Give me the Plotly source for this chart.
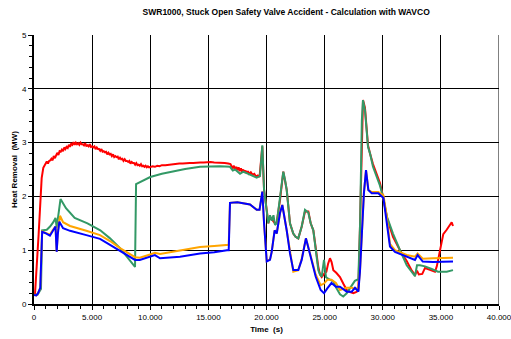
import plotly.graph_objects as go

# Heat removal (MW) versus time (s) for the four calculated cases
red_t = [0, 90, 400, 660, 800, 900, 1000, 1100, 1200, 1300, 1400, 1500, 1600, 1700, 1800, 1900,
         2000, 2100, 2200, 2300, 2400, 2500, 2600, 2700, 2800, 2900, 3000, 3100, 3200, 3300,
         3400, 3500, 3600, 3700, 3800, 3900, 4000, 4100, 4200, 4300, 4400, 4500, 4600, 4700,
         4800, 4900, 5000, 5100, 5200, 5300, 5400, 5500, 5600, 5700, 5800, 5900, 6000, 6100,
         6200, 6300, 6400, 6500, 6600, 6700, 6800, 6900, 7000, 7100, 7200, 7300, 7400, 7500,
         7600, 7700, 7800, 7900, 8000, 8100, 8200, 8300, 8400, 8500, 8600, 8700, 8800, 8900,
         9000, 9100, 9200, 9300, 9400, 9500, 9600, 9700, 9800, 9900, 10000, 10200, 10400,
         10600, 10800, 11000, 11300, 11600, 11900, 12200, 12500, 12800, 13100, 13400, 13700,
         14000, 14300, 14600, 14900, 15200, 15500, 15800, 16100, 16400, 16700, 16900, 17000,
         17100, 17200, 17300, 17400, 17500, 17600, 17700, 17800, 17900, 18000, 18100, 18200,
         18300, 18400, 18500, 18650, 18800, 18950, 19100, 19250, 19400, 19640, 19790, 20020,
         20160, 20300, 20450, 20600, 20730, 20880, 21160, 21445, 21600, 21740, 22020, 22300,
         22500, 22735, 23030, 23310, 23600, 23800, 24030, 24250, 24450, 24600, 24750, 24950,
         25150, 25300, 25460, 25600, 25750, 26000, 26320, 26600, 26900, 27200, 27470, 27700,
         27900, 28050, 28200, 28300, 28470, 28730, 28900, 29160, 29760, 30020, 30365, 30880,
         31480, 32060, 32500, 32774, 32946, 33100, 33400, 33634, 34000, 34494, 34650, 34752,
         35071, 35208, 35500, 35784, 35930, 36042]
red_v = [0.18, 0.2, 1.3, 2.34, 2.53, 2.58, 2.62, 2.65, 2.61, 2.66, 2.67, 2.7, 2.67, 2.75, 2.71,
         2.76, 2.81, 2.77, 2.84, 2.83, 2.87, 2.84, 2.91, 2.88, 2.92, 2.9, 2.96, 2.92, 2.98, 2.96,
         3.01, 2.96, 3.0, 2.97, 2.99, 2.96, 3.0, 2.97, 2.97, 2.95, 2.99, 2.94, 2.95, 2.93,
         2.97, 2.92, 2.93, 2.91, 2.93, 2.88, 2.91, 2.88, 2.88, 2.85, 2.88, 2.83, 2.84, 2.82,
         2.83, 2.78, 2.81, 2.78, 2.79, 2.75, 2.78, 2.73, 2.75, 2.73, 2.74, 2.69, 2.72, 2.69,
         2.7, 2.66, 2.69, 2.66, 2.66, 2.64, 2.66, 2.61, 2.64, 2.62, 2.62, 2.59, 2.62, 2.58,
         2.59, 2.57, 2.6, 2.56, 2.57, 2.55, 2.57, 2.54, 2.56, 2.54, 2.55, 2.56, 2.55,
         2.57, 2.56, 2.58, 2.58, 2.59, 2.6, 2.6, 2.61, 2.61, 2.62, 2.62, 2.62,
         2.63, 2.63, 2.63, 2.64, 2.64, 2.63, 2.63, 2.62, 2.62, 2.61, 2.6, 2.56,
         2.52, 2.57, 2.5, 2.55, 2.49, 2.54, 2.47, 2.52, 2.46, 2.5, 2.44, 2.48,
         2.43, 2.47, 2.42, 2.45, 2.4, 2.42, 2.37, 2.39, 2.36, 2.93, 2.12, 1.75,
         1.5, 1.62, 1.58, 1.52, 1.5, 1.52, 1.93, 2.46, 2.3, 2.12, 1.5, 1.31,
         1.25, 1.22, 1.44, 1.72, 1.72, 1.5, 1.37, 1.0, 0.7, 0.55, 0.5, 0.56,
         0.6, 0.75, 0.85, 0.78, 0.63, 0.58, 0.5, 0.38, 0.26, 0.22, 0.2, 0.22,
         0.25, 1.5, 3.3, 3.79, 3.65, 2.95, 2.8, 2.6, 2.25, 2.0, 1.6, 1.25,
         1.0, 0.8, 0.62, 0.54, 0.62, 0.55, 0.56, 0.67, 0.64, 0.6, 0.7, 0.82,
         1.13, 1.3, 1.38, 1.47, 1.52, 1.45]

green_t = [0, 300, 430, 600, 700, 1100, 1380, 1660, 1850, 1950, 2280, 2400, 2750, 3500, 4600,
           5700, 6540, 7400, 8260, 8690, 8780, 10000, 11000, 12000, 13000, 14280, 15000, 16000,
           16860, 17100, 17300, 17720, 18000, 18580, 19157, 19440, 19640, 19790, 20020, 20155,
           20300, 20448, 20600, 20731, 20878, 21161, 21445, 21600, 21738, 22021, 22305, 22500,
           22735, 23028, 23311, 23595, 23802, 24026, 24250, 24456, 24600, 24748, 24946, 25118,
           25300, 25746, 26000, 26321, 26600, 26899, 27200, 27600, 27900, 28050, 28200, 28300,
           28472, 28731, 28903, 29161, 29763, 30020, 30365, 30881, 31483, 32060, 32774, 32946,
           33204, 33634, 34210, 34752, 35500, 36042]
green_v = [0.17, 0.17, 0.22, 0.28, 1.37, 1.38, 1.44, 1.52, 1.6, 1.42, 1.95, 1.9, 1.78, 1.6, 1.5,
           1.37, 1.22, 1.04, 0.82, 0.69, 2.23, 2.36, 2.42, 2.47, 2.51, 2.55, 2.56, 2.56,
           2.55, 2.48, 2.5, 2.42, 2.46, 2.4, 2.35, 2.38, 2.95, 2.12, 1.75, 1.5,
           1.65, 1.55, 1.65, 1.47, 1.5, 1.93, 2.46, 2.3, 2.12, 1.5, 1.31, 1.25,
           1.22, 1.44, 1.75, 1.7, 1.5, 1.37, 0.95, 0.63, 0.55, 0.51, 0.82, 0.5,
           0.47, 0.42, 0.3, 0.18, 0.14, 0.2, 0.3, 0.43, 0.46, 1.5, 3.4, 3.79,
           3.6, 2.92, 2.8, 2.55, 2.2, 2.0, 1.62, 1.31, 1.0, 0.72, 0.52, 0.72,
           0.72, 0.7, 0.65, 0.6, 0.6, 0.63]

orange_t = [0, 200, 350, 500, 540, 700, 950, 1370, 1660, 1850, 1900, 1950, 2050, 2237, 2500,
            3100, 4500, 5680, 6540, 7400, 8690, 9100, 9980, 10400, 10840, 11700, 12560, 14280,
            15500, 16600, 16750, 16860, 17500, 18580, 19157, 19400, 19640, 19790, 20020, 20300,
            20448, 20700, 20880, 21160, 21360, 21738, 22021, 22305, 22735, 23028, 23390, 23800,
            24230, 24660, 24950, 25230, 25590, 25970, 26320, 26900, 27330, 27610, 27900, 28040,
            28380, 28560, 28760, 29050, 29620, 30060, 30300, 30620, 31050, 32060, 32774, 33000,
            33440, 34320, 36042]
orange_v = [0.17, 0.16, 0.2, 0.26, 0.3, 1.35, 1.33, 1.29, 1.39, 1.44, 1.2, 0.97, 1.35, 1.64, 1.52,
            1.45, 1.36, 1.28, 1.17, 1.04, 0.87, 0.86, 0.92, 0.95, 0.93, 0.96, 0.99, 1.06,
            1.08, 1.1, 1.1, 1.88, 1.89, 1.85, 1.75, 1.75, 2.09, 1.5, 0.8, 0.83,
            0.97, 1.37, 1.31, 1.69, 1.84, 1.37, 0.94, 0.6, 0.63, 0.84, 1.22, 0.9,
            0.55, 0.35, 0.38, 0.45, 0.45, 0.39, 0.26, 0.3, 0.3, 0.28, 0.3, 0.6,
            2.06, 2.49, 2.12, 2.08, 2.08, 2.02, 1.7, 1.12, 1.0, 0.91, 0.88, 0.94,
            0.84, 0.85, 0.86]

blue_t = [0, 200, 350, 500, 540, 700, 950, 1370, 1660, 1850, 1900, 1950, 2050, 2180, 2500,
          3100, 4500, 5680, 6540, 7400, 8690, 9100, 9980, 10400, 10840, 11700, 12560, 14280,
          15500, 16600, 16750, 16860, 17500, 18580, 19157, 19400, 19640, 19790, 20020, 20300,
          20448, 20700, 20880, 21160, 21360, 21738, 22021, 22305, 22735, 23028, 23390, 23800,
          24230, 24660, 24950, 25230, 25590, 25970, 26320, 26900, 27330, 27610, 27900, 28040,
          28380, 28560, 28760, 29050, 29620, 30060, 30300, 30620, 31050, 32060, 32774, 33000,
          33440, 34320, 36042]
blue_v = [0.17, 0.16, 0.2, 0.26, 0.3, 1.34, 1.32, 1.27, 1.38, 1.44, 1.2, 0.97, 1.3, 1.53, 1.41,
          1.36, 1.28, 1.21, 1.1, 0.99, 0.82, 0.82, 0.88, 0.91, 0.85, 0.86, 0.88, 0.94,
          0.96, 1.0, 1.0, 1.88, 1.89, 1.85, 1.75, 1.75, 2.09, 1.5, 0.79, 0.82,
          0.97, 1.37, 1.31, 1.69, 1.84, 1.37, 0.94, 0.63, 0.63, 0.82, 1.22, 0.88,
          0.51, 0.26, 0.2, 0.29, 0.39, 0.32, 0.32, 0.23, 0.23, 0.3, 0.23, 0.6,
          2.06, 2.49, 2.12, 2.06, 2.06, 1.97, 1.6, 1.07, 0.97, 0.88, 0.82, 0.91,
          0.79, 0.78, 0.79]

x_ticks = [0, 5000, 10000, 15000, 20000, 25000, 30000, 35000, 40000]
y_ticks = [0, 1, 2, 3, 4, 5]
x_max = 40000
y_max = 5

series = [
    (red_t, red_v, "#ff0000"),
    (green_t, green_v, "#339966"),
    (orange_t, orange_v, "#ffa500"),
    (blue_t, blue_v, "#0000ff"),
]

fig = go.Figure()
for t, v, color in series:
    fig.add_trace(go.Scatter(x=t, y=v, mode="lines",
                             line=dict(color=color, width=2),
                             showlegend=False, hoverinfo="skip"))

font_family = "Liberation Sans, Arial, sans-serif"

# right-hand frame line at the end of the time axis
fig.add_shape(type="line", xref="x", yref="paper", x0=x_max, x1=x_max, y0=0, y1=1,
              line=dict(color="#000000", width=1), layer="below")

fig.update_layout(
    width=511, height=339,
    margin=dict(l=34, r=12, t=35, b=35),
    paper_bgcolor="white", plot_bgcolor="white",
    separators=",.",
    font=dict(family=font_family, size=8, color="#000000"),
    title=dict(text="<b>SWR1000, Stuck Open Safety Valve Accident - Calculation with WAVCO</b>",
               font=dict(size=8.5, family=font_family, color="#000000"),
               x=0.56, xanchor="center", y=0.965, yanchor="middle"),
    xaxis=dict(
        range=[0, x_max], tickvals=x_ticks, tickformat=",d", automargin=False,
        ticklabeloverflow="allow",
        showgrid=True, gridcolor="#000000", gridwidth=1,
        showline=True, linecolor="#000000", linewidth=2,
        ticks="outside", ticklen=4, tickcolor="#000000", tickwidth=1,
        minor=dict(dtick=1000, ticks="outside", ticklen=3, tickcolor="#000000", showgrid=False),
        zeroline=False,
        title=dict(text="<b>Time  (s)</b>", font=dict(size=8), standoff=6),
    ),
    yaxis=dict(
        range=[0, y_max], tickvals=y_ticks, automargin=False,
        ticklabeloverflow="allow",
        showgrid=True, gridcolor="#000000", gridwidth=1,
        showline=True, linecolor="#000000", linewidth=2,
        ticks="outside", ticklen=4, tickcolor="#000000", tickwidth=1,
        minor=dict(dtick=0.2, ticks="outside", ticklen=3, tickcolor="#000000", showgrid=False),
        zeroline=False,
        title=dict(text="<b>Heat Removal  (MW)</b>", font=dict(size=8), standoff=3),
    ),
)

fig.write_html("out.html")
